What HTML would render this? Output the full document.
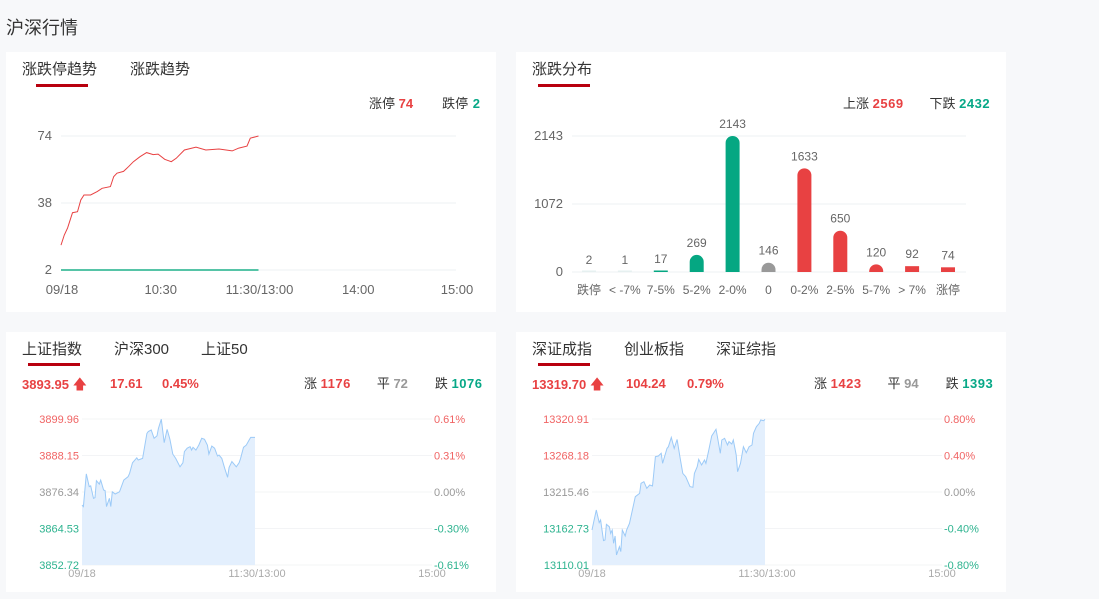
<!DOCTYPE html>
<html><head><meta charset="utf-8">
<style>
*{margin:0;padding:0;box-sizing:border-box}
body{width:1099px;height:599px;background:#f7f8fa;font-family:"Liberation Sans","Noto Sans CJK SC",sans-serif;position:relative;overflow:hidden;color:#333}
.abs{position:absolute;white-space:nowrap}
.panel{position:absolute;background:#fff}
.tab{position:absolute;font-size:15px;color:#333;line-height:18px}
.ul{position:absolute;height:3px;background:#b8000e}
.s13{font-size:13px;line-height:16px}
.red{color:#e84142}.grn{color:#07a887}.gry{color:#999}
b{font-weight:bold}
svg{position:absolute;left:0;top:0}
</style></head><body>
<div class="abs" style="left:6px;top:14px;font-size:18px;color:#333">沪深行情</div>

<div class="panel" style="left:6px;top:52px;width:490px;height:260px"></div>
<div class="panel" style="left:516px;top:52px;width:490px;height:260px"></div>
<div class="panel" style="left:6px;top:332px;width:490px;height:260px"></div>
<div class="panel" style="left:516px;top:332px;width:490px;height:260px"></div>

<div class="tab" style="left:22px;top:61px">涨跌停趋势</div>
<div class="tab" style="left:130px;top:61px">涨跌趋势</div>
<div class="ul" style="left:36px;top:84px;width:52px"></div>
<div class="abs s13" style="left:369px;top:96px">涨停 <b class="red">74</b><span style="display:inline-block;width:29px"></span>跌停 <b class="grn" style="margin-left:1px">2</b></div>

<div class="tab" style="left:532px;top:61px">涨跌分布</div>
<div class="ul" style="left:538px;top:84px;width:52px"></div>
<div class="abs s13" style="left:843px;top:96px">上涨 <b class="red" style="letter-spacing:0.5px">2569</b><span style="display:inline-block;width:26px"></span>下跌 <b class="grn" style="letter-spacing:0.5px">2432</b></div>

<div class="tab" style="left:22px;top:341px">上证指数</div>
<div class="tab" style="left:114px;top:341px">沪深300</div>
<div class="tab" style="left:201px;top:341px">上证50</div>
<div class="ul" style="left:28px;top:363px;width:52px"></div>
<div class="abs s13 red" style="left:22px;top:376px"><b>3893.95</b> <span style="font-size:14px">&#129093;</span></div>
<div class="abs s13 red" style="left:110px;top:376px"><b>17.61</b></div>
<div class="abs s13 red" style="left:162px;top:376px"><b>0.45%</b></div>
<div class="abs s13" style="left:304px;top:376px">涨 <b class="red" style="letter-spacing:0.5px">1176</b><span style="display:inline-block;width:26px"></span>平 <b class="gry">72</b><span style="display:inline-block;width:27px"></span>跌 <b class="grn" style="letter-spacing:0.5px">1076</b></div>

<div class="tab" style="left:532px;top:341px">深证成指</div>
<div class="tab" style="left:624px;top:341px">创业板指</div>
<div class="tab" style="left:716px;top:341px">深证综指</div>
<div class="ul" style="left:538px;top:363px;width:52px"></div>
<div class="abs s13 red" style="left:532px;top:376px"><b>13319.70</b> <span style="font-size:14px">&#129093;</span></div>
<div class="abs s13 red" style="left:626px;top:376px"><b>104.24</b></div>
<div class="abs s13 red" style="left:687px;top:376px"><b>0.79%</b></div>
<div class="abs s13" style="left:814px;top:376px">涨 <b class="red" style="letter-spacing:0.5px">1423</b><span style="display:inline-block;width:26px"></span>平 <b class="gry">94</b><span style="display:inline-block;width:27px"></span>跌 <b class="grn" style="letter-spacing:0.5px">1393</b></div>

<svg id="svg" width="1099" height="599"></svg>

<script>
// ---- limit trend chart data ----
const limitMinutes=[0,2,4,7,10,12,14,18,22,25,30,32,34,38,41,44,48,52,56,59,63,67,70,75,82,88,96,104,108,113,115,120];
const limitUpValues=[15.4,20.8,24.6,32.8,33.3,39.6,42.3,42.3,44.1,45.9,46.8,52.2,54,55,57.5,60.2,62.9,65.1,64,64.3,61.5,60.2,62,66.5,68,66.5,67,66,67.5,68.6,72.8,74];
const limitDownValues=[2,2,2,2,2,2,2,2,2,2,2,2,2,2,2,2,2,2,2,2,2,2,2,2,2,2,2,2,2,2,2,2];
const limitYTicks=[2,38,74];
const timeTickLabels=['09/18','10:30','11:30/13:00','14:00','15:00'];
const timeTickMinutes=[0,60,120,180,240];
// ---- distribution data ----
const distCategories=['跌停','< -7%','7-5%','5-2%','2-0%','0','0-2%','2-5%','5-7%','> 7%','涨停'];
const distValues=[2,1,17,269,2143,146,1633,650,120,92,74];
const distKinds=['d','d','d','d','d','f','u','u','u','u','u'];
const distYTicks=[0,1072,2143];
// ---- Shanghai index ----
const shMinutes=[0,1,3,5,6,8,9,10,12,13,15,16,17,19,20,21,23,26,29,32,33,35,38,39,42,45,46,48,50,52,53,55,57,59,61,63,65,68,70,71,73,75,76,77,79,81,83,85,87,88,90,92,94,95,97,99,101,102,104,107,109,110,112,114,116,117,120];
const shValues=[3872.1,3871.6,3882.2,3878.1,3878.3,3874.3,3874.5,3880.0,3878.9,3880.2,3877.0,3876.8,3871.6,3874.3,3871.6,3876.4,3875.7,3876.4,3880.2,3881.3,3882.4,3885.8,3887.4,3886.7,3887.2,3895.3,3895.9,3896.4,3893.7,3894.5,3896.9,3899.9,3892.3,3896.6,3893.4,3888.6,3887.2,3884.5,3885.8,3889.4,3890.5,3891.0,3889.9,3890.8,3889.9,3891.5,3893.7,3893.4,3891.5,3888.6,3891.2,3890.5,3888.0,3888.3,3887.2,3884.0,3881.1,3884.3,3886.2,3884.5,3885.8,3887.2,3890.8,3891.5,3893.2,3894.0,3894.0];
const shYTicks=[3852.72,3864.53,3876.34,3888.15,3899.96];
const shPctTicks=['-0.61%','-0.30%','0.00%','0.31%','0.61%'];
// ---- Shenzhen index ----
const szMinutes=[0,1,3,5,6,8,9,10,12,13,14,15,16,17,19,20,21,23,24,26,28,30,33,34,36,38,40,42,44,46,48,49,52,53,55,57,59,61,63,65,68,70,71,73,74,76,78,79,81,83,86,87,89,90,92,94,95,97,98,100,101,103,105,107,109,111,112,114,116,117,119,120];
const szValues=[13160.6,13170.2,13189.5,13171.2,13175.0,13145.2,13146.1,13168.7,13165.4,13155.7,13160.6,13141.3,13151.9,13124.4,13136.5,13129.3,13160.6,13151.9,13160.6,13170.2,13189.5,13208.7,13213.5,13228.0,13230.4,13220.8,13225.6,13224.1,13266.5,13267.5,13271.3,13256.9,13278.5,13280.9,13294.4,13278.5,13291.5,13266.5,13242.4,13237.6,13223.2,13222.2,13242.4,13252.0,13262.6,13254.5,13261.7,13256.9,13276.1,13296.3,13306.0,13295.4,13271.3,13290.6,13293.0,13283.3,13288.2,13284.8,13290.6,13268.9,13244.8,13256.9,13280.9,13272.3,13280.9,13283.3,13300.2,13309.8,13314.6,13319.5,13318.5,13320.4];
const szYTicks=[13110.01,13162.73,13215.46,13268.18,13320.91];
const szPctTicks=['-0.80%','-0.40%','0.00%','0.40%','0.80%'];

const svg=document.getElementById('svg');
const NS='http://www.w3.org/2000/svg';
function mk(tag,attrs,parent){const e=document.createElementNS(NS,tag);for(const k in attrs)e.setAttribute(k,attrs[k]);(parent||svg).appendChild(e);return e;}
function txt(x,y,s,anchor,fill,size){const t=mk('text',{x:x,y:y,'text-anchor':anchor,fill:fill,'font-size':size,'font-family':'Liberation Sans, Noto Sans CJK SC, sans-serif'});t.textContent=s;return t;}

// ===== limit trend =====
(function(){
  const x0=61,x1=456,yTop=136,yBot=270;
  const xs=m=>x0+(x1-x0)*m/240;
  const ys=v=>yBot-(v-2)/(74-2)*(yBot-yTop);
  limitYTicks.forEach(v=>{
    const l=mk('line',{x1:x0,x2:x1,y1:ys(v),y2:ys(v),stroke:'#eef0f3','stroke-width':1});
    
    
    const t=txt(52,ys(v)+4,String(v),'end','#666',13);
    
    
  });
  timeTickLabels.forEach((s,i)=>{
    const t=txt(xs(timeTickMinutes[i])+1,294,s,'middle','#666',13);
    
    
  });
  const up=mk('path',{d:limitMinutes.map((m,i)=>(i?'L':'M')+xs(m).toFixed(1)+','+ys(limitUpValues[i]).toFixed(1)).join(''),fill:'none',stroke:'#e84142','stroke-width':1});
  
  
  const dn=mk('path',{d:limitMinutes.map((m,i)=>(i?'L':'M')+xs(m).toFixed(1)+','+ys(limitDownValues[i]).toFixed(1)).join(''),fill:'none',stroke:'#1fb08a','stroke-width':1.5});
  
  
})();

// ===== distribution =====
(function(){
  const gx0=572,gx1=966,yTop=136,yBot=272,c0=589,step=35.9,bw=14;
  const ys=v=>yBot-v/2143*(yBot-yTop);
  distYTicks.forEach(v=>{
    const l=mk('line',{x1:gx0,x2:gx1,y1:ys(v),y2:ys(v),stroke:'#eef0f3','stroke-width':1});
    
    
    const t=txt(563,ys(v)+4,String(v),'end','#666',13);
    
    
  });
  const col={d:'#05a782',f:'#999999',u:'#e84142'};
  distCategories.forEach((c,i)=>{
    const cx=c0+i*step, y=ys(distValues[i]), h=yBot-y;
    const r=Math.min(bw/2,h);
    const fill=distValues[i]<5?'#e6f0f0':col[distKinds[i]];
    let d;
    if(h>=bw/2) d=`M${cx-bw/2},${yBot}L${cx-bw/2},${y+r}A${r},${r} 0 0 1 ${cx+bw/2},${y+r}L${cx+bw/2},${yBot}Z`;
    else d=`M${cx-bw/2},${yBot}L${cx-bw/2},${yBot-Math.max(h,1.5)}L${cx+bw/2},${yBot-Math.max(h,1.5)}L${cx+bw/2},${yBot}Z`;
    const b=mk('path',{d:d,fill:fill});
    
    
    const v=txt(cx,y-8,String(distValues[i]),'middle','#666',12);
    
    
    const t=txt(cx,294,c,'middle','#666',12);
    
    
  });
})();

// ===== index charts =====
function indexChart(x0,minutes,values,yTicks,pctTicks,prefix){
  const x1=x0+350,yTop=419,yBot=565;
  const lo=yTicks[0],hi=yTicks[yTicks.length-1];
  const xs=m=>x0+m*173/120;
  const ys=v=>yBot-(v-lo)/(hi-lo)*(yBot-yTop);
  const colors=['#2db38f','#2db38f','#999','#f06464','#f06464'];
  yTicks.forEach((v,i)=>{
    const l=mk('line',{x1:x0,x2:x1,y1:ys(v),y2:ys(v),stroke:'#f3f4f6','stroke-width':1});
    
    
  });
  const pts=minutes.map((m,i)=>xs(m).toFixed(1)+','+ys(values[i]).toFixed(1));
  const area=mk('path',{d:'M'+xs(minutes[0]).toFixed(1)+','+yBot+'L'+pts.join('L')+'L'+xs(minutes[minutes.length-1]).toFixed(1)+','+yBot+'Z',fill:'#e3effd'});
  
  
  const line=mk('path',{d:'M'+pts.join('L'),fill:'none',stroke:'#9ccaf7','stroke-width':1});
  
  
  yTicks.forEach((v,i)=>{
    const t=txt(x0-3,ys(v)+4,v.toFixed(2),'end',colors[i],11);
    
    
    const p=txt(x1+2,ys(v)+4,pctTicks[i],'start',colors[i],11);
    
    
  });
  const xl=[['09/18',x0],['11:30/13:00',x0+175],['15:00',x1]];
  xl.forEach(a=>{
    const t=txt(a[1],577,a[0],'middle','#aaa',11);
    
    
  });
}
indexChart(82,shMinutes,shValues,shYTicks,shPctTicks,'sh');
indexChart(592,szMinutes,szValues,szYTicks,szPctTicks,'sz');
</script>
</body></html>
